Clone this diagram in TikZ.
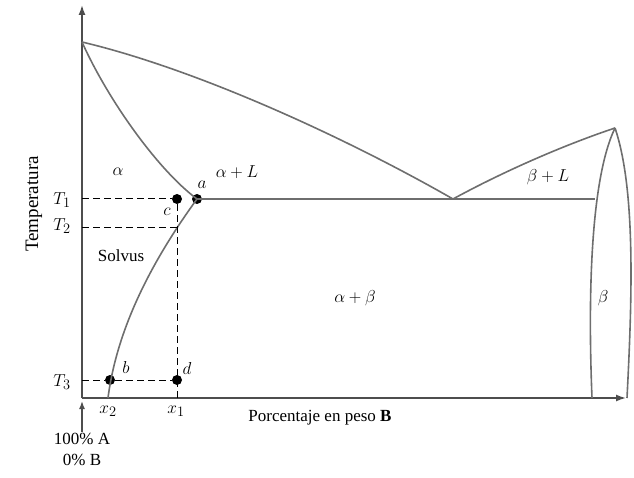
\documentclass[tikz,border=0pt]{standalone}
\usepackage{fontspec}
\setmainfont{Liberation Serif}
\usetikzlibrary{arrows.meta}
\definecolor{ln}{HTML}{6E6E6E}
\begin{document}
\begin{tikzpicture}[x=1pt,y=-1pt,
  curve/.style={draw=ln,line width=1.6pt},
  axis/.style={draw=ln!70!black,line width=1.5pt},
  guide/.style={draw=black,line width=1pt,dash pattern=on 7pt off 4pt},
  pt/.style={circle,fill=black,inner sep=0pt,minimum size=10pt},
  lbl/.style={font=\fontsize{19}{22}\selectfont,inner sep=1pt},
  txt/.style={font=\fontsize{17}{20}\selectfont,inner sep=1pt}]
\useasboundingbox (0,0) rectangle (634,478);
% key coordinates
\coordinate (A) at (82,42);
\coordinate (E) at (453,199);
\coordinate (Bp) at (615,128);
\coordinate (Bl) at (595,199);
\coordinate (T1) at (82,199);
\coordinate (T2) at (82,228);
\coordinate (T3) at (82,380);
\coordinate (s2) at (177,228);
\coordinate (x1) at (177,398);
\coordinate (so) at (108,398);
\coordinate (O) at (82,398);
\coordinate (Xend) at (626,398);
\coordinate (Yend) at (82,5);
\coordinate (P0) at (82,432);
\coordinate (P1) at (82,401);
% axes
\draw[axis,-{Latex[length=10pt,width=7pt]}] (O) -- (Yend);
\draw[axis,-{Latex[length=10pt,width=7pt]}] (O) -- (Xend);
\draw[axis,-{Latex[length=8pt,width=6pt]}] (P0) -- (P1);
% points
\node[pt] (a) at (197,199) {};
\node[pt] (c) at (177,199) {};
\node[pt] (b) at (110,380) {};
\node[pt] (d) at (177,380) {};
% phase boundaries
\draw[curve] (A) .. controls (200,70) and (350,140) .. (E);
\draw[curve] (E) .. controls (510,168) and (570,143) .. (Bp);
\draw[curve] (A) .. controls (108,100) and (158,170) .. (a.center);
\draw[curve] (a.center) -- (Bl);
\draw[curve] (a.center) .. controls (160,250) and (118,320) .. (so);
\draw[curve] (Bp) .. controls (590,180) and (588,300) .. (592,398);
\draw[curve] (Bp) .. controls (636,190) and (632,300) .. (627,398);
% guides
\draw[guide] (T1) -- (c);
\draw[guide] (T2) -- (s2);
\draw[guide] (T3) -- (b) -- (d);
\draw[guide] (c) -- (x1);
% labels
\node[lbl] at (62,200) {$T_1$};
\node[lbl] at (62,226) {$T_2$};
\node[lbl] at (62,382) {$T_3$};
\node[lbl] at (167,212) {$c$};
\node[lbl] at (202,185) {$a$};
\node[lbl] at (126,367) {$b$};
\node[lbl] at (187,368) {$d$};
\node[lbl] at (108,411) {$x_2$};
\node[lbl] at (176,411) {$x_1$};
\node[txt] at (320,418) {Porcentaje en peso \textbf{B}};
\node[txt] at (82,439) {100\% A};
\node[txt] at (82,460) {0\% B};
\node[txt,rotate=90,font=\fontsize{19}{22}\selectfont] at (34,204) {Temperatura};
\node[lbl] at (118,172) {$\alpha$};
\node[lbl] at (237,172) {$\alpha + L$};
\node[lbl] at (548,177) {$\beta + L$};
\node[txt] at (121,256) {Solvus};
\node[lbl] at (355,298) {$\alpha + \beta$};
\node[lbl] at (603,298) {$\beta$};
\end{tikzpicture}
\end{document}
